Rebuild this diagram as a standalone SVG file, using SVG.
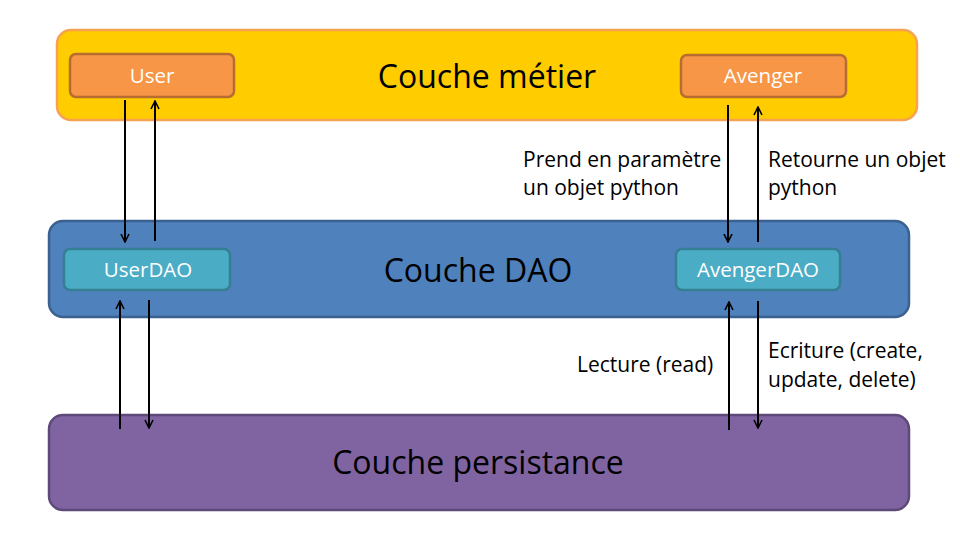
<svg xmlns="http://www.w3.org/2000/svg" width="960" height="540" viewBox="0 0 960 540">
<defs>
<marker id="ah" viewBox="0 0 10 10" refX="9" refY="5" markerWidth="10" markerHeight="10" markerUnits="userSpaceOnUse" orient="auto">
<path d="M1,1 L9,5 L1,9" fill="none" stroke="#000" stroke-width="1.6"/>
</marker>
<style>
.t{font-family:"Open Sans","Noto Sans","Liberation Sans",sans-serif;}
.big{font-size:32px;fill:#000;text-anchor:middle;}
.box{font-size:20.5px;fill:#fff;text-anchor:middle;}
.lbl{font-size:21px;fill:#000;}
.con{stroke:#000;stroke-width:2;fill:none;marker-end:url(#ah);}
</style>
</defs>
<rect width="960" height="540" fill="#fff"/>
<g id="couche-metier">
<rect x="57" y="30" width="860" height="90" rx="14" fill="#FFCC00" stroke="#F7A24F" stroke-width="2.5"/>
<text class="t big" x="487" y="88">Couche métier</text>
</g>
<g id="couche-dao">
<rect x="49" y="221" width="860" height="96" rx="14" fill="#4F81BD" stroke="#3A6190" stroke-width="2.5"/>
<text class="t big" x="478" y="282">Couche DAO</text>
</g>
<g id="couche-persistance">
<rect x="49" y="415" width="860" height="95" rx="14" fill="#8064A2" stroke="#5E4A7A" stroke-width="2.5"/>
<text class="t big" x="478" y="474">Couche persistance</text>
</g>
<g id="user">
<rect x="70" y="54" width="164" height="43" rx="6" fill="#F79646" stroke="#B86D30" stroke-width="2.5"/>
<text class="t box" x="152" y="83">User</text>
</g>
<g id="avenger">
<rect x="681" y="55" width="165" height="42" rx="6" fill="#F79646" stroke="#B86D30" stroke-width="2.5"/>
<text class="t box" x="763" y="83">Avenger</text>
</g>
<g id="userdao">
<rect x="64" y="249" width="166" height="41" rx="6" fill="#4BACC6" stroke="#357F93" stroke-width="2.5"/>
<text class="t box" x="148" y="277">UserDAO</text>
</g>
<g id="avengerdao">
<rect x="676" y="249" width="164" height="41" rx="6" fill="#4BACC6" stroke="#357F93" stroke-width="2.5"/>
<text class="t box" x="758" y="277">AvengerDAO</text>
</g>
<g id="connectors">
<line class="con" x1="125" y1="100" x2="125" y2="242"/>
<line class="con" x1="155" y1="241" x2="155" y2="101"/>
<line class="con" x1="120" y1="429" x2="120" y2="301"/>
<line class="con" x1="149" y1="300" x2="149" y2="428"/>
<line class="con" x1="728" y1="105" x2="728" y2="242"/>
<line class="con" x1="758" y1="242" x2="758" y2="107"/>
<line class="con" x1="729" y1="430" x2="729" y2="302"/>
<line class="con" x1="758" y1="301" x2="758" y2="428"/>
</g>
<g id="labels">
<text class="t lbl" x="523" y="167">Prend en paramètre</text>
<text class="t lbl" x="523" y="195">un objet python</text>
<text class="t lbl" x="768" y="167">Retourne un objet</text>
<text class="t lbl" x="768" y="195">python</text>
<text class="t lbl" x="577" y="372">Lecture (read)</text>
<text class="t lbl" x="768" y="358">Ecriture (create,</text>
<text class="t lbl" x="768" y="387">update, delete)</text>
</g>
</svg>
